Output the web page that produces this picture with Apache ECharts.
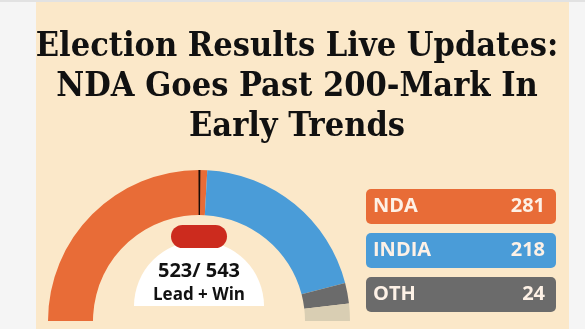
<!DOCTYPE html>
<html>
<head>
<meta charset="utf-8">
<script src="https://cdn.jsdelivr.net/npm/echarts@6/dist/echarts.min.js"></script>
<style>
html,body{margin:0;padding:0;background:#f5f5f5;}
#c{width:585px;height:329px;}
</style>
</head>
<body>
<div id="c"></div>
<script>
// ---- data ----
const titleLines = ['Election Results Live Updates:', 'NDA Goes Past 200-Mark In', 'Early Trends'];
const parties = ['NDA', 'INDIA', 'OTH'];
const seats = [281, 218, 24];
const totalSeats = 543;
const majorityMark = 272;
const centerCaption = 'Lead + Win';

// ---- styles ----
const partyColors = ['#e86c37', '#4a9cd8', '#6b6b6b'];
const remainColor = '#d9ceb3';
const bg = '#fbe8c9';

const declared = seats.reduce((a, b) => a + b, 0);
const remaining = totalSeats - declared;

const cx = 199, cy = 321, rIn = 106, rOut = 151;

const gaugeData = parties.map((p, i) => ({ name: p, value: seats[i], itemStyle: { color: partyColors[i] } }));
gaugeData.push({ name: 'Remaining', value: remaining, itemStyle: { color: remainColor } });
gaugeData.push({ name: 'hidden', value: totalSeats, itemStyle: { color: 'rgba(0,0,0,0)' } });

const markerWidth = 2.2;
const markerData = [
  { value: majorityMark - markerWidth / 2, itemStyle: { color: 'rgba(0,0,0,0)' } },
  { value: markerWidth, itemStyle: { color: '#1a0d08' } },
  { value: totalSeats - majorityMark - markerWidth / 2, itemStyle: { color: 'rgba(0,0,0,0)' } },
  { value: totalSeats, itemStyle: { color: 'rgba(0,0,0,0)' } }
];

const graphics = [
  { type: 'rect', shape: { x: 0, y: 0, width: 585, height: 2 }, style: { fill: '#e2e2e2' }, z: -10 },
  { type: 'rect', shape: { x: 36, y: 2, width: 533, height: 327 }, style: { fill: bg }, z: -10 }
];
const titleY = [47, 87, 127];
titleLines.forEach((t, i) => {
  graphics.push({
    type: 'text', x: 297, y: titleY[i],
    style: { text: t, font: 'bold 34px "DejaVu Serif Condensed", "DejaVu Serif", serif', fill: '#111', textAlign: 'center', textVerticalAlign: 'middle' }
  });
});
// center white half-disc
graphics.push({ type: 'sector', shape: { cx: cx, cy: 306, r0: 0, r: 65, startAngle: Math.PI, endAngle: 2 * Math.PI }, style: { fill: '#ffffff' }, z: 5 });
graphics.push({ type: 'rect', shape: { x: cx - 28, y: 225, width: 56, height: 23, r: 11.5 }, style: { fill: '#cc2b1e' }, z: 6 });
graphics.push({ type: 'text', x: cx, y: 271, style: { text: declared + '/ ' + totalSeats, font: 'bold 20px "Open Sans"', fill: '#111', textAlign: 'center', textVerticalAlign: 'middle' }, z: 7 });
graphics.push({ type: 'text', x: cx, y: 295, style: { text: centerCaption, font: 'bold 17px "Open Sans"', fill: '#111', textAlign: 'center', textVerticalAlign: 'middle' }, z: 7 });
// legend boxes
const boxX = 366, boxW = 190, boxH = 35, boxY0 = 189, boxGap = 44;
parties.forEach((p, i) => {
  const y = boxY0 + i * boxGap;
  graphics.push({ type: 'rect', shape: { x: boxX, y: y, width: boxW, height: boxH, r: 5 }, style: { fill: partyColors[i] } });
  graphics.push({ type: 'text', x: boxX + 7, y: y + boxH / 2, style: { text: p, font: 'bold 20px "Open Sans"', fill: '#fdf1e6', textVerticalAlign: 'middle' } });
  graphics.push({ type: 'text', x: boxX + boxW - 11, y: y + boxH / 2, style: { text: String(seats[i]), font: 'bold 20px "Open Sans"', fill: '#fdf1e6', textAlign: 'right', textVerticalAlign: 'middle' } });
});

const chart = echarts.init(document.getElementById('c'), null, { renderer: 'canvas' });
chart.setOption({
  animation: false,
  backgroundColor: '#f5f5f5',
  graphic: graphics,
  series: [
    {
      type: 'pie', center: [cx, cy], radius: [rIn, rOut], startAngle: 180, clockwise: true,
      label: { show: false }, labelLine: { show: false }, silent: true,
      data: gaugeData, z: 2
    },
    {
      type: 'pie', center: [cx, cy], radius: [rIn, rOut], startAngle: 180, clockwise: true,
      label: { show: false }, labelLine: { show: false }, silent: true,
      data: markerData, z: 3
    }
  ]
});
</script>
</body>
</html>
